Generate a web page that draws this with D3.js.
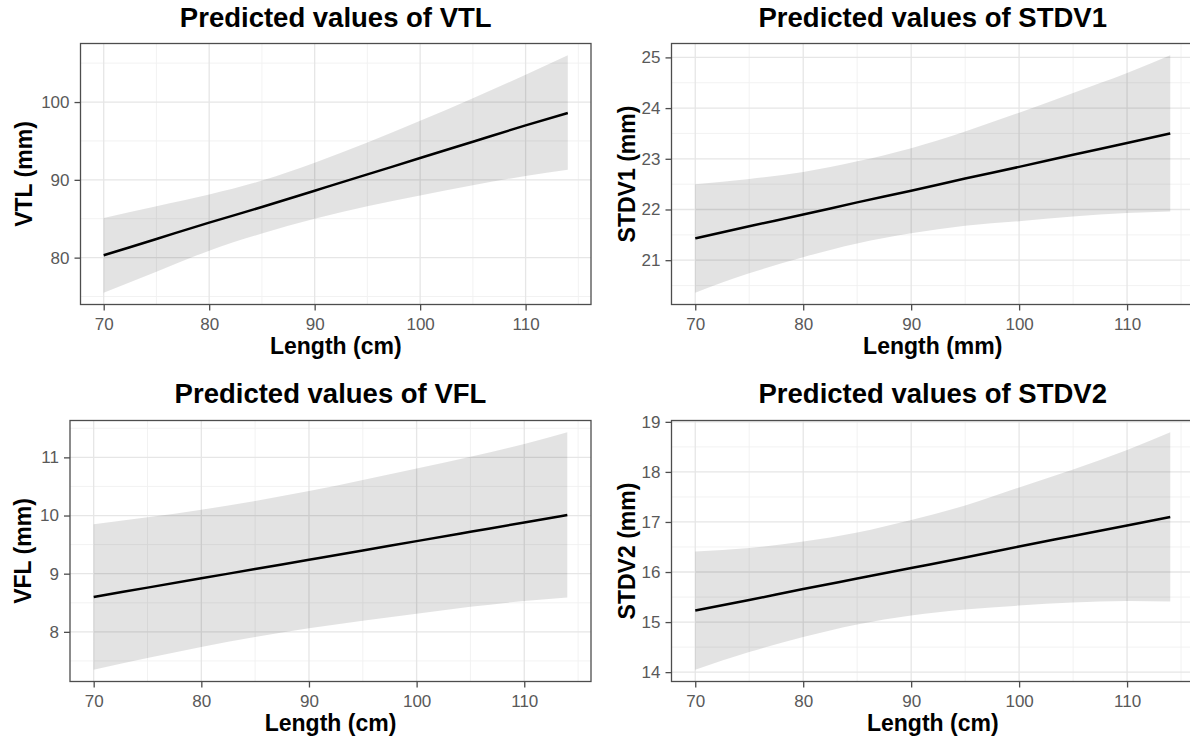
<!DOCTYPE html>
<html>
<head>
<meta charset="utf-8">
<script src="https://cdn.jsdelivr.net/npm/d3@7"></script>
<style>
  body { margin: 0; background: #fff; }
  svg { display: block; font-family: "Liberation Sans", Arial, sans-serif; }
</style>
</head>
<body>
<div id="chart"></div>
<script>
const lengthCm = [70, 75, 80, 85, 90, 95, 100, 105, 110, 114]
const xTicks = [70, 80, 90, 100, 110]

// VTL
const vtlFit  = [80.3, 82.4, 84.5, 86.5, 88.6, 90.7, 92.8, 94.9, 97.0, 98.6]
const vtlLow  = [75.5, 78.2, 80.9, 83.1, 85.0, 86.6, 88.0, 89.3, 90.5, 91.3]
const vtlHigh = [85.1, 86.6, 88.1, 89.9, 92.2, 94.8, 97.6, 100.5, 103.5, 106.0]
const vtlTicks = [80, 90, 100]

// STDV1
const stdv1Fit  = [21.43, 21.67, 21.90, 22.14, 22.37, 22.61, 22.84, 23.08, 23.31, 23.50]
const stdv1Low  = [20.36, 20.74, 21.06, 21.33, 21.53, 21.68, 21.77, 21.86, 21.93, 21.96]
const stdv1High = [22.50, 22.60, 22.74, 22.95, 23.21, 23.54, 23.91, 24.30, 24.69, 25.04]
const stdv1Ticks = [21, 22, 23, 24, 25]

// VFL
const vflFit  = [8.60, 8.76, 8.92, 9.08, 9.24, 9.40, 9.56, 9.72, 9.88, 10.01]
const vflLow  = [7.35, 7.55, 7.74, 7.91, 8.06, 8.19, 8.31, 8.43, 8.53, 8.59]
const vflHigh = [9.85, 9.97, 10.10, 10.25, 10.42, 10.61, 10.81, 11.01, 11.23, 11.43]
const vflTicks = [8, 9, 10, 11]

// STDV2
const stdv2Fit  = [15.23, 15.44, 15.66, 15.87, 16.08, 16.29, 16.51, 16.72, 16.93, 17.10]
const stdv2Low  = [14.05, 14.40, 14.70, 14.95, 15.13, 15.25, 15.33, 15.39, 15.42, 15.41]
const stdv2High = [16.41, 16.48, 16.61, 16.79, 17.04, 17.33, 17.69, 18.05, 18.44, 18.79]
const stdv2Ticks = [14, 15, 16, 17, 18, 19]

const WIDTH = 1190
const HEIGHT = 742

const svg = d3.select("#chart")
    .append("svg")
    .attr("width", WIDTH)
    .attr("height", HEIGHT)

// panel boxes (left, right, top, bottom) + where the texts sit
const panels = [
    { title: "Predicted values of VTL", xLab: "Length (cm)", yLab: "VTL (mm)",
      fit: vtlFit, low: vtlLow, high: vtlHigh, yTicks: vtlTicks,
      box: { l: 80.5, r: 591, t: 43.5, b: 304.5 }, titleY: 26.5, xLabY: 354, yLabX: 31.5 },
    { title: "Predicted values of STDV1", xLab: "Length (mm)", yLab: "STDV1 (mm)",
      fit: stdv1Fit, low: stdv1Low, high: stdv1High, yTicks: stdv1Ticks,
      box: { l: 671.5, r: 1194, t: 43.5, b: 304.5 }, titleY: 26.5, xLabY: 354, yLabX: 635 },
    { title: "Predicted values of VFL", xLab: "Length (cm)", yLab: "VFL (mm)",
      fit: vflFit, low: vflLow, high: vflHigh, yTicks: vflTicks,
      box: { l: 70, r: 591, t: 420.5, b: 681.5 }, titleY: 403, xLabY: 731, yLabX: 31 },
    { title: "Predicted values of STDV2", xLab: "Length (cm)", yLab: "STDV2 (mm)",
      fit: stdv2Fit, low: stdv2Low, high: stdv2High, yTicks: stdv2Ticks,
      box: { l: 671.5, r: 1194, t: 420.5, b: 681.5 }, titleY: 403, xLabY: 731, yLabX: 635 }
]

// ggplot style 5% expansion
function expand(ext) {
    const pad = (ext[1] - ext[0]) * 0.05
    return [ext[0] - pad, ext[1] + pad]
}

// minor breaks half way between majors (and one step outside)
function minors(ticks, domain) {
    const step = ticks[1] - ticks[0]
    const out = []
    for (let v = ticks[0] - step / 2; v <= ticks[ticks.length - 1] + step; v += step) {
        if (v >= domain[0] && v <= domain[1]) out.push(v)
    }
    return out
}

panels.forEach(p => {
    const b = p.box
    const g = svg.append("g")

    const x = d3.scaleLinear()
        .domain(expand(d3.extent(lengthCm)))
        .range([b.l, b.r])

    const y = d3.scaleLinear()
        .domain(expand(d3.extent(p.low.concat(p.high))))
        .range([b.b, b.t])

    //grid lines, minor first
    g.append("g").selectAll("line")
        .data(minors(p.yTicks, y.domain()))
        .join("line")
        .attr("x1", b.l).attr("x2", b.r)
        .attr("y1", d => y(d)).attr("y2", d => y(d))
        .attr("stroke", "#f0f0f0").attr("stroke-width", 0.9)

    g.append("g").selectAll("line")
        .data(minors(xTicks, x.domain()))
        .join("line")
        .attr("y1", b.t).attr("y2", b.b)
        .attr("x1", d => x(d)).attr("x2", d => x(d))
        .attr("stroke", "#f0f0f0").attr("stroke-width", 0.9)

    g.append("g").selectAll("line")
        .data(p.yTicks)
        .join("line")
        .attr("x1", b.l).attr("x2", b.r)
        .attr("y1", d => y(d)).attr("y2", d => y(d))
        .attr("stroke", "#e6e6e6").attr("stroke-width", 1.3)

    g.append("g").selectAll("line")
        .data(xTicks)
        .join("line")
        .attr("y1", b.t).attr("y2", b.b)
        .attr("x1", d => x(d)).attr("x2", d => x(d))
        .attr("stroke", "#e6e6e6").attr("stroke-width", 1.3)

    // confidence band
    const rows = lengthCm.map((v, i) => ({ x: v, fit: p.fit[i], low: p.low[i], high: p.high[i] }))

    g.append("path")
        .datum(rows)
        .attr("fill", "#000")
        .attr("fill-opacity", 0.11)
        .attr("d", d3.area()
            .x(d => x(d.x))
            .y0(d => y(d.low))
            .y1(d => y(d.high))
            .curve(d3.curveMonotoneX))

    g.append("path")
        .datum(rows)
        .attr("fill", "none")
        .attr("stroke", "#000")
        .attr("stroke-width", 2.5)
        .attr("d", d3.line()
            .x(d => x(d.x))
            .y(d => y(d.fit))
            .curve(d3.curveMonotoneX))

    // border
    g.append("rect")
        .attr("x", b.l).attr("y", b.t)
        .attr("width", b.r - b.l).attr("height", b.b - b.t)
        .attr("fill", "none")
        .attr("stroke", "#4d4d4d")
        .attr("stroke-width", 1.3)

    //axes
    const xAxis = g.append("g")
        .attr("transform", "translate(0," + b.b + ")")
        .call(d3.axisBottom(x).tickValues(xTicks).tickFormat(d => d).tickSize(6).tickPadding(7))

    const yAxis = g.append("g")
        .attr("transform", "translate(" + b.l + ",0)")
        .call(d3.axisLeft(y).tickValues(p.yTicks).tickFormat(d => d).tickSize(6).tickPadding(5))

    ;[xAxis, yAxis].forEach(a => {
        a.select(".domain").remove()
        a.selectAll(".tick line").attr("stroke", "#4d4d4d").attr("stroke-width", 1.3)
        a.selectAll(".tick text")
            .attr("fill", "#595959")
            .style("font-size", "17px")
            .style("font-family", "Liberation Sans, Arial, sans-serif")
    })

    // titles
    g.append("text")
        .attr("x", (b.l + b.r) / 2)
        .attr("y", p.titleY)
        .attr("text-anchor", "middle")
        .style("font-size", "27.5px")
        .style("font-weight", "bold")
        .text(p.title)

    g.append("text")
        .attr("x", (b.l + b.r) / 2)
        .attr("y", p.xLabY)
        .attr("text-anchor", "middle")
        .style("font-size", "23px")
        .style("font-weight", "bold")
        .text(p.xLab)

    g.append("text")
        .attr("transform", "translate(" + p.yLabX + "," + (b.t + b.b) / 2 + ") rotate(-90)")
        .attr("text-anchor", "middle")
        .style("font-size", "23px")
        .style("font-weight", "bold")
        .text(p.yLab)
})
</script>
</body>
</html>
